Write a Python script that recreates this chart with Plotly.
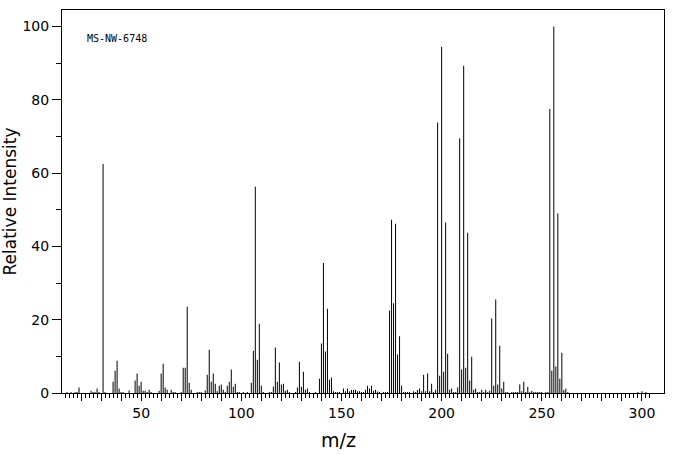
import plotly.graph_objects as go

# m/z and relative intensity
mz = [13, 15, 17, 18, 19, 25, 26, 27, 28, 29, 31, 32,
      36, 37, 38, 39, 40, 41, 44, 47, 48, 49, 50, 51, 52, 53, 54, 55,
      59, 60, 61, 62, 63, 65, 66, 67, 70, 71, 72, 73, 74, 75, 78, 79, 80, 82,
      83, 84, 85, 86, 87, 88, 89, 90, 91, 92, 93, 94, 95, 96, 97, 98, 99,
      101, 103, 105, 106, 107, 108, 109, 110, 111, 114, 115, 116, 117, 118, 119,
      120, 121, 122, 123, 124, 127, 128, 129, 130, 131, 132, 133, 134, 137,
      139, 140, 141, 142, 143, 144, 145, 146, 147, 148, 149, 151, 152, 153,
      154, 155, 156, 157, 158, 159, 160, 161, 162, 163, 164, 165, 166, 167,
      168, 169, 171, 172, 173, 174, 175, 176, 177, 178, 179, 180, 181, 182,
      183, 184, 186, 187, 188, 189, 190, 191, 192, 193, 194, 195, 196, 197,
      198, 199, 200, 201, 202, 203, 204, 205, 206, 207, 208, 209, 210, 211,
      212, 213, 214, 215, 216, 217, 218, 219, 220, 221, 222, 223, 224, 225,
      226, 227, 228, 229, 230, 231, 232, 233, 235, 236, 237, 238, 239, 240,
      241, 242, 243, 244, 245, 246, 247, 248, 249, 250, 252, 253, 254, 255,
      256, 257, 258, 259, 260, 261, 262, 263, 298, 300, 302]
intensity = [0.3, 0.3, 0.3, 0.3, 1.5, 0.6, 0.3, 0.3, 1.2, 0.3, 62.5, 0.3,
             3.1, 6.1, 8.8, 1.2, 0.3, 0.3, 0.7, 3.4, 5.3, 2.0, 3.1, 0.6, 0.6, 0.3, 0.9, 0.3,
             0.6, 5.3, 8.0, 1.5, 0.9, 0.9, 0.3, 0.3, 0.3, 6.9, 6.9, 23.5, 2.8, 0.9, 0.3, 0.3, 0.3, 0.7,
             5.0, 11.8, 3.1, 5.3, 2.5, 0.5, 2.0, 2.3, 0.9, 0.3, 2.0, 3.1, 6.4, 1.7, 2.5, 0.3, 0.3,
             0.3, 0.3, 2.8, 11.5, 56.3, 9.1, 18.9, 2.0, 0.3, 0.3, 0.3, 1.7, 12.4, 3.1, 8.3,
             2.3, 2.5, 0.6, 0.9, 0.3, 0.3, 1.5, 8.5, 1.7, 5.8, 0.9, 1.2, 0.3, 0.3,
             3.9, 13.5, 35.5, 11.3, 23.0, 3.6, 4.2, 0.5, 0.3, 0.3, 0.3, 1.2, 0.5, 1.2,
             0.5, 0.8, 0.8, 0.9, 0.5, 0.5, 0.3, 0.3, 0.9, 2.0, 1.2, 2.0, 0.6, 0.9,
             0.4, 0.3, 0.3, 0.3, 0.3, 22.5, 47.3, 24.5, 46.2, 10.5, 15.5, 2.0, 0.3, 0.3,
             0.3, 0.3, 0.5, 0.3, 0.8, 1.2, 0.5, 5.0, 0.5, 5.3, 0.5, 2.5, 0.3, 0.9,
             73.8, 4.7, 94.5, 5.8, 46.5, 10.7, 0.9, 1.2, 0.3, 0.3, 1.5, 69.5, 6.4, 89.3,
             6.9, 43.7, 3.4, 9.9, 0.9, 1.2, 0.3, 0.3, 0.9, 0.3, 0.9, 0.3, 0.6, 20.3,
             2.0, 25.5, 2.3, 12.9, 1.2, 3.1, 0.3, 0.3, 0.3, 0.3, 0.3, 0.3, 2.3, 0.5,
             3.1, 0.3, 1.7, 0.3, 0.6, 0.3, 0.3, 0.3, 0.3, 0.3, 0.3, 0.3, 77.5, 6.1,
             100.0, 7.2, 49.0, 3.9, 11.0, 0.8, 1.2, 0.3, 0.3, 0.5, 0.3]

x_major = list(range(20, 301, 10))
x_labels = [str(v) if v % 50 == 0 else "" for v in x_major]
x_minor = [v for v in range(12, 305, 2) if v % 10 != 0]
y_major = [0, 20, 40, 60, 80, 100]
y_minor = [10, 30, 50, 70, 90]
sample_id = "MS-NW-6748"
x_title = "m/z"

# near-opaque colour makes plotly round bar edges to whole pixels (1 px wide sticks)
fig = go.Figure(go.Bar(x=mz, y=intensity, width=0.5,
                       marker=dict(color="rgba(0,0,0,0.995)", line=dict(width=0))))

font_main = "DejaVu Sans"
fig.update_layout(
    width=676, height=455,
    margin=dict(l=62, r=12, t=10, b=62, autoexpand=False),
    paper_bgcolor="white", plot_bgcolor="white",
    showlegend=False,
    font=dict(family=font_main, color="black", size=14),
    xaxis=dict(range=[10.5, 311], automargin=False,
               showline=True, linecolor="black", linewidth=1,
               mirror=True, showgrid=False, zeroline=False,
               tickmode="array", tickvals=x_major, ticktext=x_labels,
               ticks="outside", ticklen=7, tickwidth=1, tickcolor="black",
               minor=dict(tickmode="array", tickvals=x_minor, ticks="outside",
                          ticklen=4, tickwidth=1, tickcolor="black"),
               tickfont=dict(size=14)),
    yaxis=dict(range=[0, 104.5], automargin=False,
               showline=True, linecolor="black", linewidth=1,
               mirror=True, showgrid=False, zeroline=False,
               tickmode="array", tickvals=y_major,
               ticks="outside", ticklen=9, tickwidth=1, tickcolor="black",
               minor=dict(tickmode="array", tickvals=y_minor, ticks="outside",
                          ticklen=5, tickwidth=1, tickcolor="black"),
               tickfont=dict(size=14),
               title=dict(text="Relative Intensity", font=dict(size=17), standoff=2)),
    annotations=[
        dict(text=sample_id, xref="paper", yref="paper",
             x=0.039, y=0.925, xanchor="left", yanchor="middle",
             showarrow=False, font=dict(family="DejaVu Sans Mono", size=10)),
        dict(text=x_title, xref="paper", yref="paper",
             x=0.4585, y=-0.122, xanchor="center", yanchor="middle",
             showarrow=False, font=dict(size=19)),
    ],
)

fig.write_html("out.html")
